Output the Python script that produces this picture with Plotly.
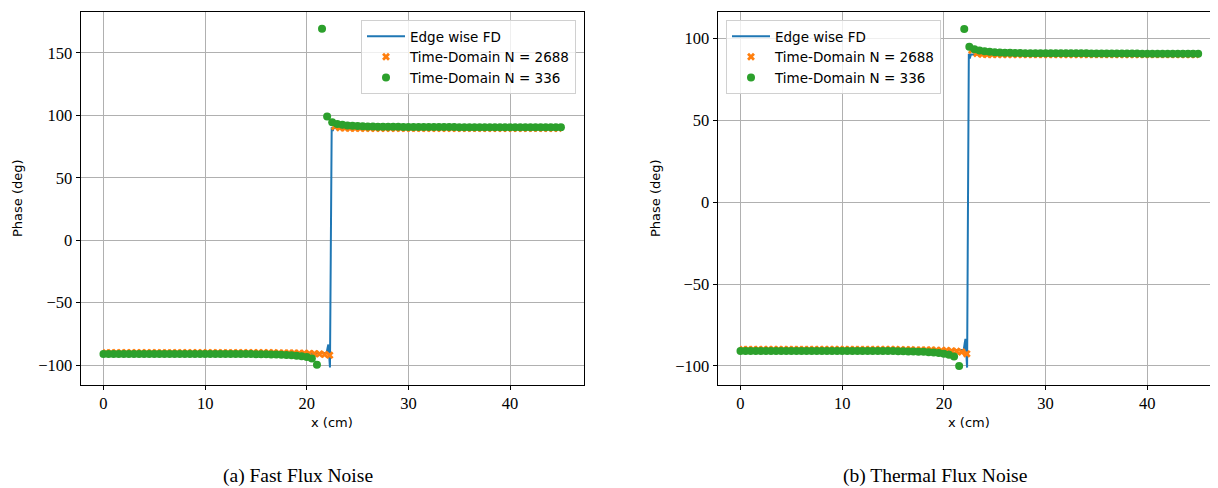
import numpy as np
import plotly.graph_objects as go

# ---------------- data ----------------
# sample positions (cm)
x_td336 = np.linspace(0, 45, 91)
x_td2688 = np.linspace(0.25, 44.75, 90)

# Edge wise FD (line) – left panel (fast) and right panel (thermal)
x_fd_fast = [0, 21.95, 22.05, 22.12, 22.2, 22.28, 22.45, 22.55, 22.65, 45]
y_fd_fast = [-90.0, -90.2, -86.0, -83.5, -92.0, -101.9, 90.5, 87.5, 90.0, 90.0]
x_fd_therm = [0, 21.95, 22.05, 22.12, 22.2, 22.28, 22.45, 22.55, 22.65, 45]
y_fd_therm = [-90.0, -90.2, -86.0, -83.5, -92.0, -101.0, 90.5, 87.5, 90.0, 90.0]

# Time-Domain N = 336 (green)
y_336_fast = [
    -91.0, -91.0, -91.0, -91.0, -91.0, -91.0, -91.0, -91.0, -91.0, -91.0,
    -91.0, -91.0, -91.0, -91.0, -91.0, -91.0, -91.0, -91.0, -91.0, -91.0,
    -91.0, -91.0, -91.0, -91.0, -91.1, -91.1, -91.1, -91.1, -91.1, -91.1,
    -91.2, -91.3, -91.3, -91.4, -91.5, -91.7, -91.9, -92.1, -92.4, -92.8,
    -93.4, -94.6, -99.6, 169.3, 99.2, 94.6, 93.2, 92.5, 92.0, 91.7,
    91.5, 91.3, 91.2, 91.1, 91.0, 91.0, 90.9, 90.9, 90.9, 90.8,
    90.8, 90.8, 90.8, 90.8, 90.7, 90.7, 90.7, 90.7, 90.7, 90.7,
    90.6, 90.6, 90.6, 90.6, 90.6, 90.6, 90.6, 90.6, 90.6, 90.5,
    90.5, 90.5, 90.5, 90.5, 90.5, 90.5, 90.5, 90.5, 90.5, 90.5,
    90.5,
]
y_336_therm = [
    -90.8, -90.8, -90.8, -90.8, -90.8, -90.8, -90.8, -90.8, -90.8, -90.8,
    -90.8, -90.8, -90.8, -90.8, -90.8, -90.8, -90.8, -90.8, -90.8, -90.8,
    -90.8, -90.8, -90.8, -90.8, -90.8, -90.8, -90.8, -90.8, -90.9, -90.9,
    -90.9, -91.0, -91.0, -91.1, -91.2, -91.3, -91.4, -91.6, -91.8, -92.1,
    -92.5, -93.1, -94.2, -100.0, 105.5, 94.7, 93.2, 92.4, 91.9, 91.6,
    91.4, 91.2, 91.1, 91.0, 90.9, 90.9, 90.8, 90.8, 90.8, 90.8,
    90.8, 90.7, 90.7, 90.7, 90.7, 90.7, 90.7, 90.7, 90.7, 90.6,
    90.6, 90.6, 90.6, 90.6, 90.6, 90.6, 90.6, 90.6, 90.6, 90.5,
    90.5, 90.5, 90.5, 90.5, 90.5, 90.5, 90.5, 90.5, 90.5, 90.5,
    90.5,
]

# Time-Domain N = 2688 (orange)
y_2688_fast = [
    -90.0, -90.0, -90.0, -90.0, -90.0, -90.0, -90.0, -90.0, -90.0, -90.0,
    -90.0, -90.0, -90.0, -90.0, -90.0, -90.0, -90.0, -90.0, -90.0, -90.0,
    -90.0, -90.0, -90.0, -90.0, -90.0, -90.0, -90.0, -90.0, -90.0, -90.0,
    -90.0, -90.1, -90.1, -90.1, -90.2, -90.2, -90.3, -90.3, -90.4, -90.5,
    -90.6, -90.8, -91.0, -91.4, -92.0, 91.0, 90.0, 89.8, 89.7, 89.7,
    89.7, 89.7, 89.7, 89.7, 89.7, 89.7, 89.7, 89.7, 89.7, 89.7,
    89.7, 89.7, 89.7, 89.7, 89.7, 89.7, 89.7, 89.7, 89.7, 89.7,
    89.7, 89.7, 89.7, 89.7, 89.7, 89.7, 89.7, 89.7, 89.7, 89.7,
    89.7, 89.7, 89.7, 89.7, 89.7, 89.7, 89.7, 89.7, 89.7, 89.7,
]
y_2688_therm = [
    -90.0, -90.0, -90.0, -90.0, -90.0, -90.0, -90.0, -90.0, -90.0, -90.0,
    -90.0, -90.0, -90.0, -90.0, -90.0, -90.0, -90.0, -90.0, -90.0, -90.0,
    -90.0, -90.0, -90.0, -90.0, -90.0, -90.0, -90.0, -90.0, -90.0, -90.0,
    -90.0, -90.1, -90.1, -90.1, -90.2, -90.2, -90.3, -90.3, -90.4, -90.5,
    -90.6, -90.8, -91.0, -91.5, -92.6, 92.5, 90.6, 90.1, 89.9, 89.9,
    89.9, 89.9, 89.9, 89.9, 89.9, 89.9, 89.9, 89.9, 89.9, 89.9,
    89.9, 89.9, 89.9, 89.9, 89.9, 89.9, 89.9, 89.9, 89.9, 89.9,
    89.9, 89.9, 89.9, 89.9, 89.9, 89.9, 89.9, 89.9, 89.9, 89.9,
    89.9, 89.9, 89.9, 89.9, 89.9, 89.9, 89.9, 89.9, 89.9, 89.9,
]

x_ticks = [0, 10, 20, 30, 40]
y_ticks_fast = [-100, -50, 0, 50, 100, 150]
y_ticks_therm = [-100, -50, 0, 50, 100]

legend_names = ["Edge wise FD", "Time-Domain N = 2688", "Time-Domain N = 336"]
captions = ["(a) Fast Flux Noise", "(b) Thermal Flux Noise"]
x_title = "x (cm)"
y_title = "Phase (deg)"

# ---------------- figure ----------------
OFF = 8  # default page body margin in the written html
W, H = 1218 - OFF, 488 - OFF
BLUE, ORANGE, GREEN = "#1f77b4", "#ff7f0e", "#2ca02c"
SANS = "DejaVu Sans"
SERIF = "Liberation Serif"


def fx(p):
    return (p - OFF) / W


def fy(p):
    return 1 - (p - OFF) / H


fig = go.Figure()

panels = [
    ("x", "y", "legend", x_fd_fast, y_fd_fast, y_2688_fast, y_336_fast),
    ("x2", "y2", "legend2", x_fd_therm, y_fd_therm, y_2688_therm, y_336_therm),
]
for xa, ya, lg, xfd, yfd, y2688, y336 in panels:
    fig.add_trace(go.Scatter(x=xfd, y=yfd, mode="lines", name=legend_names[0],
                             line=dict(color=BLUE, width=2), xaxis=xa, yaxis=ya, legend=lg))
    fig.add_trace(go.Scatter(x=x_td2688, y=y2688, mode="markers", name=legend_names[1],
                             marker=dict(symbol="x", size=7, color=ORANGE, line=dict(width=0)),
                             xaxis=xa, yaxis=ya, legend=lg))
    fig.add_trace(go.Scatter(x=x_td336, y=y336, mode="markers", name=legend_names[2],
                             marker=dict(symbol="circle", size=8, color=GREEN, line=dict(width=0)),
                             xaxis=xa, yaxis=ya, legend=lg))

axis_common = dict(
    showgrid=True, gridcolor="#b0b0b0", gridwidth=1,
    showline=True, linecolor="black", linewidth=1,
    ticks="outside", ticklen=4, tickwidth=1, tickcolor="black",
    tickfont=dict(family=SERIF, size=16.5, color="black"),
    zeroline=False,
)

ydom = [fy(384.5), fy(12)]
legend_common = dict(
    yanchor="top", y=fy(20),
    bgcolor="rgba(255,255,255,0.8)", bordercolor="#d0d0d0", borderwidth=1,
    font=dict(family=SANS, size=13.5, color="black"), itemwidth=38,
)
fig.update_layout(
    width=W, height=H,
    margin=dict(l=0, r=0, t=0, b=0),
    paper_bgcolor="white", plot_bgcolor="white",
    xaxis=dict(domain=[fx(80.6), fx(583.8)], range=[-2.25, 47.25], tickvals=x_ticks,
               anchor="y", mirror=True, **axis_common),
    yaxis=dict(domain=ydom, range=[-115.5, 182.8], tickvals=y_ticks_fast,
               anchor="x", mirror=True, **axis_common),
    xaxis2=dict(domain=[fx(717.6), 1.0], range=[-2.25, 46.95], tickvals=x_ticks,
                anchor="y2", mirror=True, **axis_common),
    yaxis2=dict(domain=ydom, range=[-111.3, 115.9], tickvals=y_ticks_therm,
                anchor="x2", mirror=False, **axis_common),
    legend=dict(x=fx(576), xanchor="right", **legend_common),
    legend2=dict(x=fx(726), xanchor="left", **legend_common),
    showlegend=True,
)

ann = []
# axis titles
for cx in (332, 969):
    ann.append(dict(text=x_title, x=fx(cx), y=fy(422), xref="paper", yref="paper",
                    showarrow=False, xanchor="center", yanchor="middle",
                    font=dict(family=SANS, size=13, color="black")))
for cx in (18, 656):
    ann.append(dict(text=y_title, x=fx(cx), y=fy(198), xref="paper", yref="paper",
                    showarrow=False, xanchor="center", yanchor="middle", textangle=-90,
                    font=dict(family=SANS, size=13, color="black")))
# captions
for cx, txt in zip((298, 935), captions):
    ann.append(dict(text=txt, x=fx(cx), y=fy(488), xref="paper", yref="paper",
                    showarrow=False, xanchor="center", yanchor="bottom", borderpad=0,
                    font=dict(family=SERIF, size=19.5, color="black")))
fig.update_layout(annotations=ann)

fig.write_html("out.html")
